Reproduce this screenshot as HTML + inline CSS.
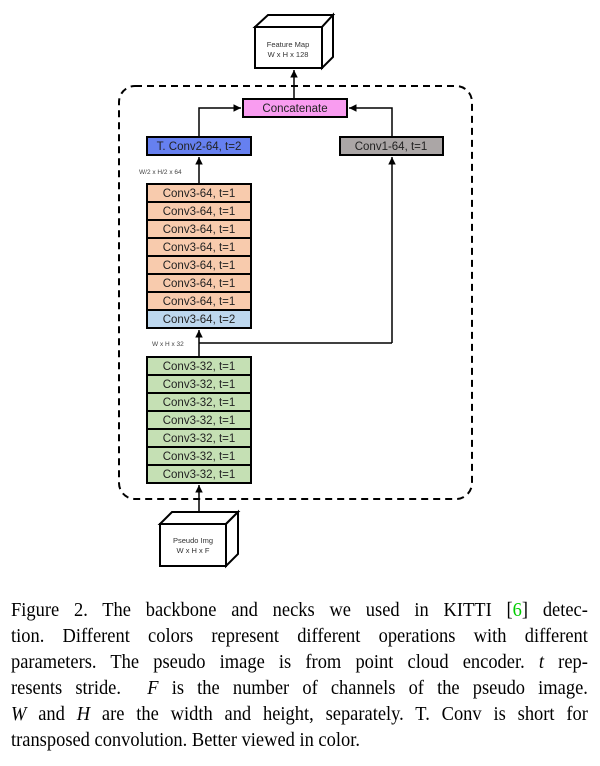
<!DOCTYPE html>
<html><head><meta charset="utf-8"><style>
body{margin:0;width:600px;height:766px;background:#fff;overflow:hidden;position:relative}
svg{position:absolute;left:0;top:0}
.cap{position:absolute;left:11px;width:641px;transform:scaleX(0.9);transform-origin:0 0;font-family:"Liberation Serif",serif;font-size:20.5px;color:#000;text-align:justify;text-align-last:justify;white-space:nowrap;line-height:26px}
.cap.last{text-align-last:left}
i{font-style:italic}
</style></head><body>
<svg width="600" height="590" viewBox="0 0 600 590" font-family="Liberation Sans, sans-serif">
<defs><marker id="a" markerWidth="6" markerHeight="6" refX="5" refY="3" orient="auto"><path d="M0,0.5 L5,3 L0,5.5z" fill="#000"/></marker></defs>
<g stroke="#000" stroke-width="2" fill="#fff">
<path d="M255,27 L268,15 L333,15 L322,27 Z"/>
<path d="M322,27 L333,15 L333,57 L322,68 Z"/>
<rect x="255" y="27" width="67" height="41"/>
</g>
<text x="288" y="47" font-size="7.5" text-anchor="middle" fill="#333">Feature Map</text>
<text x="288" y="57" font-size="7.5" text-anchor="middle" fill="#333">W x H x 128</text>
<rect x="119" y="86" width="353" height="413" rx="16" fill="none" stroke="#000" stroke-width="2" stroke-dasharray="7,5"/>
<g stroke="#000" stroke-width="1.5" fill="none">
<line x1="294" y1="99" x2="294" y2="70" marker-end="url(#a)"/>
<polyline points="199,137 199,108 241,108" marker-end="url(#a)"/>
<polyline points="392,137 392,108 349,108" marker-end="url(#a)"/>
<line x1="199" y1="184" x2="199" y2="157" marker-end="url(#a)"/>
<line x1="392" y1="343" x2="392" y2="157" marker-end="url(#a)"/>
<line x1="199" y1="343" x2="392" y2="343"/>
<line x1="199" y1="357" x2="199" y2="330" marker-end="url(#a)"/>
<line x1="199" y1="512" x2="199" y2="485" marker-end="url(#a)"/>
</g>
<g stroke="#000" stroke-width="2">
<rect x="243" y="99" width="104" height="18" fill="#f99cf0"/>
<rect x="147" y="137" width="104" height="18" fill="#6680f0"/>
<rect x="340" y="137" width="103" height="18" fill="#aba6a6"/>
<rect x="147" y="184" width="104" height="18" fill="#f8cbad"/>
<rect x="147" y="202" width="104" height="18" fill="#f8cbad"/>
<rect x="147" y="220" width="104" height="18" fill="#f8cbad"/>
<rect x="147" y="238" width="104" height="18" fill="#f8cbad"/>
<rect x="147" y="256" width="104" height="18" fill="#f8cbad"/>
<rect x="147" y="274" width="104" height="18" fill="#f8cbad"/>
<rect x="147" y="292" width="104" height="18" fill="#f8cbad"/>
<rect x="147" y="310" width="104" height="18" fill="#bdd7ee"/>
<rect x="147" y="357" width="104" height="18" fill="#c5e0b4"/>
<rect x="147" y="375" width="104" height="18" fill="#c5e0b4"/>
<rect x="147" y="393" width="104" height="18" fill="#c5e0b4"/>
<rect x="147" y="411" width="104" height="18" fill="#c5e0b4"/>
<rect x="147" y="429" width="104" height="18" fill="#c5e0b4"/>
<rect x="147" y="447" width="104" height="18" fill="#c5e0b4"/>
<rect x="147" y="465" width="104" height="18" fill="#c5e0b4"/>
</g>
<g font-size="11.5" text-anchor="middle" fill="#222">
<text x="295" y="112">Concatenate</text>
<text x="199" y="150">T. Conv2-64, t=2</text>
<text x="391" y="150">Conv1-64, t=1</text>
<text x="199" y="197">Conv3-64, t=1</text>
<text x="199" y="215">Conv3-64, t=1</text>
<text x="199" y="233">Conv3-64, t=1</text>
<text x="199" y="251">Conv3-64, t=1</text>
<text x="199" y="269">Conv3-64, t=1</text>
<text x="199" y="287">Conv3-64, t=1</text>
<text x="199" y="305">Conv3-64, t=1</text>
<text x="199" y="323">Conv3-64, t=2</text>
<text x="199" y="370">Conv3-32, t=1</text>
<text x="199" y="388">Conv3-32, t=1</text>
<text x="199" y="406">Conv3-32, t=1</text>
<text x="199" y="424">Conv3-32, t=1</text>
<text x="199" y="442">Conv3-32, t=1</text>
<text x="199" y="460">Conv3-32, t=1</text>
<text x="199" y="478">Conv3-32, t=1</text>
</g>
<text x="139" y="174" font-size="6.5" fill="#444">W/2 x H/2 x 64</text>
<text x="152" y="346" font-size="6.5" fill="#444">W x H x 32</text>
<g stroke="#000" stroke-width="2" fill="#fff">
<path d="M160,524 L172,512 L238,512 L226,524 Z"/>
<path d="M226,524 L238,512 L238,554 L226,566 Z"/>
<rect x="160" y="524" width="66" height="42"/>
</g>
<text x="193" y="543" font-size="7.5" text-anchor="middle" fill="#333">Pseudo Img</text>
<text x="193" y="553" font-size="7.5" text-anchor="middle" fill="#333">W x H x F</text>
</svg>
<div class="cap" style="top:597px">Figure 2. The backbone and necks we used in KITTI [<span style="color:#0c0">6</span>] detec-</div>
<div class="cap" style="top:623px">tion. Different colors represent different operations with different</div>
<div class="cap" style="top:649px">parameters. The pseudo image is from point cloud encoder. <i>t</i> rep-</div>
<div class="cap" style="top:675px">resents stride. &nbsp;<i>F</i> is the number of channels of the pseudo image.</div>
<div class="cap" style="top:701px"><i>W</i> and <i>H</i> are the width and height, separately. T. Conv is short for</div>
<div class="cap last" style="top:727px">transposed convolution. Better viewed in color.</div>
</body></html>
